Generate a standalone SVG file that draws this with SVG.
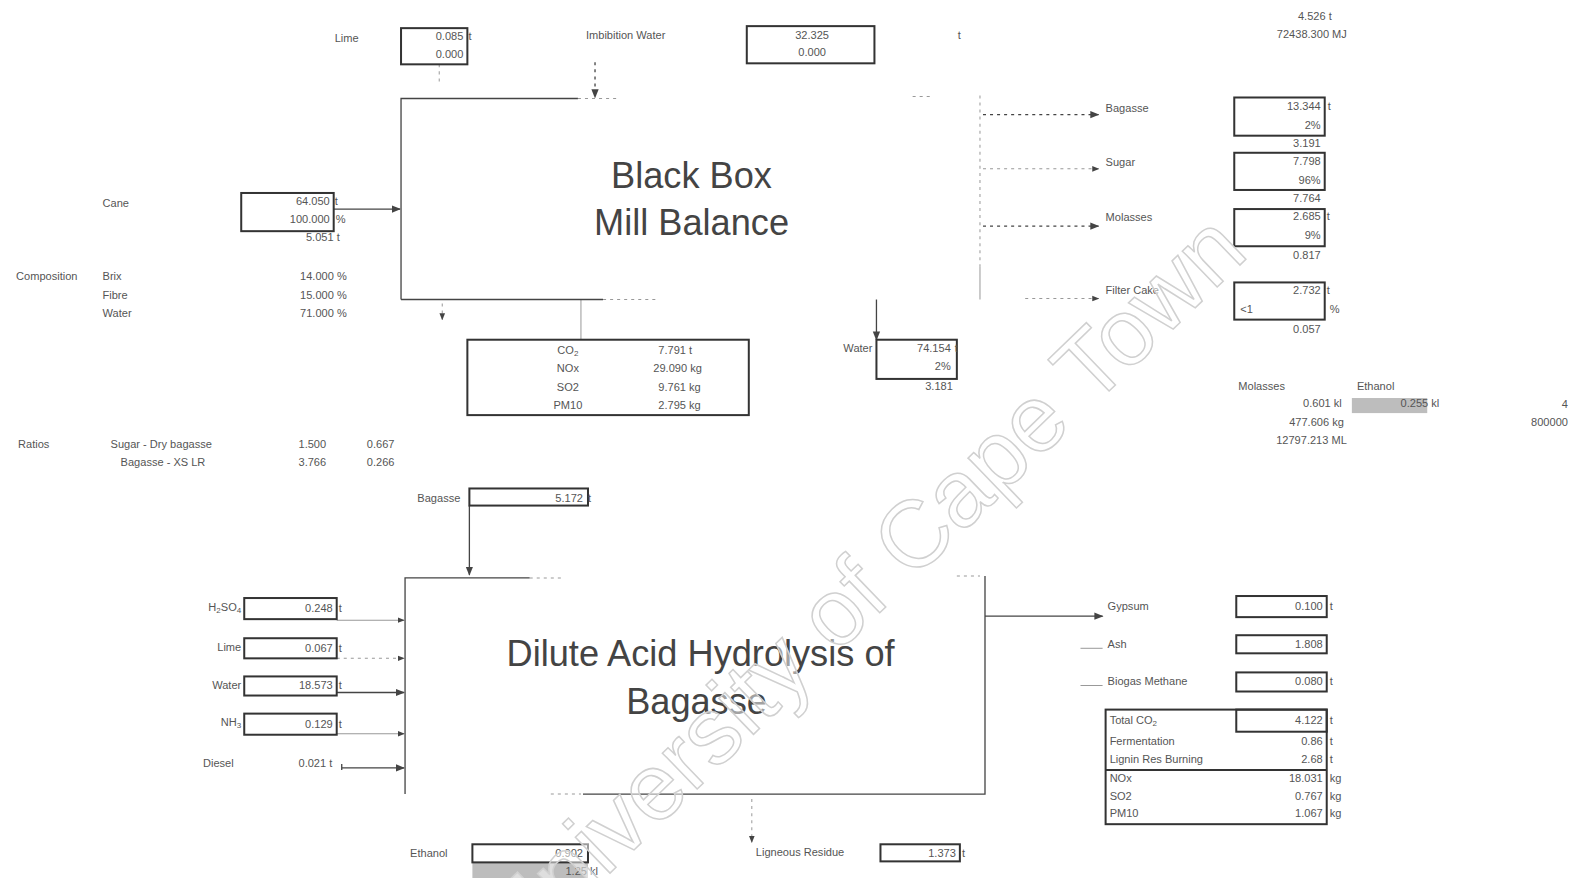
<svg xmlns="http://www.w3.org/2000/svg" width="1576" height="878" viewBox="0 0 1576 878">
<defs>
<style>
.t{font-family:"Liberation Sans",Arial,sans-serif;font-size:11px;fill:#555}
.e{text-anchor:end}
.m{text-anchor:middle}
.ti{font-family:"Liberation Sans",Arial,sans-serif;font-size:36px;fill:#444;text-anchor:middle}
.box{fill:none;stroke:#333;stroke-width:2}
.ln{fill:none;stroke:#444;stroke-width:1.3}
.lt{fill:none;stroke:#999;stroke-width:1}
.d{stroke-dasharray:3 4}
.wm{font-family:"Liberation Sans",Arial,sans-serif;font-size:94px;fill:#ffffff;fill-opacity:0.5;stroke:#d0d0d0;stroke-width:1.5;text-anchor:middle}
</style>
<marker id="a" viewBox="0 0 10 10" refX="9" refY="5" markerWidth="7" markerHeight="7" orient="auto"><path d="M0,1 L10,5 L0,9 z" fill="#444"/></marker>
</defs>
<rect width="1576" height="878" fill="#ffffff"/>
<g transform="scale(1.0051)">
<g id="connectors">
<path class="lt d" d="M437,64 V82"/>
<path class="ln d" d="M592,62 V97" marker-end="url(#a)"/>
<path class="ln" d="M332,208 H398" marker-end="url(#a)"/>
<path class="lt d" d="M440,302 V318" marker-end="url(#a)"/>
<path class="lt" d="M578,298 V338"/>
<path class="ln" d="M872,298 V338" marker-end="url(#a)"/>
<path class="ln d" d="M978,114 H1093" marker-end="url(#a)"/>
<path class="lt d" d="M978,168 H1093" marker-end="url(#a)"/>
<path class="ln d" d="M978,225 H1093" marker-end="url(#a)"/>
<path class="lt d" d="M1020,297 H1093" marker-end="url(#a)"/>
<path class="ln" d="M467,503 V572" marker-end="url(#a)"/>
<path class="lt" d="M335,617 H402" marker-end="url(#a)"/>
<path class="lt d" d="M335,655 H402" marker-end="url(#a)"/>
<path class="ln" d="M335,689 H402" marker-end="url(#a)"/>
<path class="lt" d="M335,730 H402" marker-end="url(#a)"/>
<path class="ln" d="M340,760 V766 M340,764 H402" marker-end="url(#a)"/>
<path class="ln" d="M980,613 H1097" marker-end="url(#a)"/>
<path class="lt" d="M1075,645 H1097"/>
<path class="lt" d="M1075,682 H1097"/>
<path class="lt d" d="M748,795 V838" marker-end="url(#a)"/>
</g>
<g id="lime-top">
<text class="t" x="333" y="42">Lime</text>
<rect class="box" x="399" y="28" width="66" height="36"/>
<text class="t e" x="461" y="40">0.085</text><text class="t" x="466" y="40">t</text>
<text class="t e" x="461" y="58">0.000</text>
</g>
<g id="imbibition">
<text class="t" x="583" y="39">Imbibition Water</text>
<rect class="box" x="743" y="26" width="127" height="37"/>
<text class="t m" x="808" y="39">32.325</text>
<text class="t m" x="808" y="56">0.000</text>
<text class="t" x="953" y="39">t</text>
</g>
<g id="energy">
<text class="t e" x="1325" y="20">4.526 t</text>
<text class="t e" x="1340" y="38">72438.300 MJ</text>
</g>
<g id="black-box">
<path class="ln" d="M399,298 V98 H575"/>
<path class="lt d" d="M575,98 H615"/>
<path class="lt d" d="M908,96 H925"/>
<path class="lt d" d="M975,95 V265"/>
<path class="lt" d="M975,265 V298"/>
<path class="ln" d="M399,298 H600"/>
<path class="lt d" d="M600,298 H652"/>
<text class="ti" x="688" y="187">Black Box</text>
<text class="ti" x="688" y="234">Mill Balance</text>
</g>
<g id="cane">
<text class="t" x="102" y="206">Cane</text>
<rect class="box" x="240" y="192" width="92" height="38"/>
<text class="t e" x="328" y="204">64.050</text><text class="t" x="333" y="204">t</text>
<text class="t e" x="328" y="222">100.000</text><text class="t" x="334" y="222">%</text>
<text class="t e" x="338" y="240">5.051 t</text>
</g>
<g id="composition">
<text class="t" x="16" y="279">Composition</text>
<text class="t" x="102" y="279">Brix</text>
<text class="t" x="102" y="297">Fibre</text>
<text class="t" x="102" y="315">Water</text>
<text class="t e" x="345" y="279">14.000 %</text>
<text class="t e" x="345" y="297">15.000 %</text>
<text class="t e" x="345" y="315">71.000 %</text>
</g>
<g id="emissions">
<rect class="box" x="465" y="338" width="280" height="75"/>
<text class="t m" x="565" y="352">CO<tspan font-size="8" dy="2">2</tspan></text>
<text class="t m" x="565" y="370">NOx</text>
<text class="t m" x="565" y="389">SO2</text>
<text class="t m" x="565" y="407">PM10</text>
<text class="t" x="655" y="352">7.791 t</text>
<text class="t" x="650" y="370">29.090 kg</text>
<text class="t" x="655" y="389">9.761 kg</text>
<text class="t" x="655" y="407">2.795 kg</text>
</g>
<g id="water-out">
<text class="t e" x="868" y="350">Water</text>
<rect class="box" x="872" y="338" width="80" height="39"/>
<text class="t e" x="946" y="350">74.154</text><text class="t" x="950" y="350">t</text>
<text class="t e" x="946" y="368">2%</text>
<text class="t e" x="948" y="388">3.181</text>
</g>
<g id="bagasse-out">
<text class="t" x="1100" y="111">Bagasse</text>
<rect class="box" x="1228" y="97" width="90" height="38"/>
<text class="t e" x="1314" y="109">13.344</text><text class="t" x="1321" y="109">t</text>
<text class="t e" x="1314" y="128">2%</text>
<text class="t e" x="1314" y="146">3.191</text>
</g>
<g id="sugar-out">
<text class="t" x="1100" y="165">Sugar</text>
<rect class="box" x="1228" y="152" width="90" height="37"/>
<text class="t e" x="1314" y="164">7.798</text>
<text class="t e" x="1314" y="183">96%</text>
<text class="t e" x="1314" y="201">7.764</text>
</g>
<g id="molasses-out">
<text class="t" x="1100" y="220">Molasses</text>
<rect class="box" x="1228" y="208" width="90" height="37"/>
<text class="t e" x="1314" y="219">2.685</text><text class="t" x="1320" y="219">t</text>
<text class="t e" x="1314" y="238">9%</text>
<text class="t e" x="1314" y="258">0.817</text>
</g>
<g id="filter-cake">
<text class="t" x="1100" y="293">Filter Cake</text>
<rect class="box" x="1228" y="281" width="90" height="37"/>
<text class="t e" x="1314" y="293">2.732</text><text class="t" x="1320" y="293">t</text>
<text class="t" x="1234" y="311">&lt;1</text><text class="t" x="1323" y="311">%</text>
<text class="t e" x="1314" y="331">0.057</text>
</g>
<g id="ethanol-molasses">
<text class="t" x="1232" y="388">Molasses</text>
<text class="t" x="1350" y="388">Ethanol</text>
<text class="t e" x="1335" y="405">0.601 kl</text>
<rect x="1345" y="396" width="75" height="15" fill="#bdbdbd"/>
<text class="t e" x="1432" y="405">0.255 kl</text>
<text class="t e" x="1337" y="424">477.606 kg</text>
<text class="t e" x="1340" y="442">12797.213 ML</text>
<text class="t e" x="1560" y="406">4</text>
<text class="t e" x="1560" y="424">800000</text>
</g>
<g id="ratios">
<text class="t" x="18" y="446">Ratios</text>
<text class="t" x="110" y="446">Sugar - Dry bagasse</text>
<text class="t" x="120" y="464">Bagasse - XS LR</text>
<text class="t" x="297" y="446">1.500</text>
<text class="t" x="365" y="446">0.667</text>
<text class="t" x="297" y="464">3.766</text>
<text class="t" x="365" y="464">0.266</text>
</g>
<g id="bagasse-in">
<text class="t e" x="458" y="499">Bagasse</text>
<rect class="box" x="467" y="486" width="118" height="17"/>
<text class="t e" x="580" y="499">5.172</text><text class="t" x="585" y="499">t</text>
</g>
<g id="dilute-acid">
<path class="ln" d="M403,790 V575 H527"/>
<path class="lt d" d="M527,575 H560"/>
<path class="lt d" d="M952,573 H975"/>
<path class="ln" d="M980,573 V790 H580"/>
<path class="lt d" d="M548,790 H578"/>
<text class="ti" x="697" y="663">Dilute Acid Hydrolysis of</text>
<text class="ti" x="693" y="710">Bagasse</text>
</g>
<g id="inputs">
<text class="t e" x="240" y="608">H<tspan font-size="8" dy="2">2</tspan><tspan dy="-2">SO</tspan><tspan font-size="8" dy="2">4</tspan></text>
<rect class="box" x="243" y="595" width="92" height="21"/>
<text class="t e" x="331" y="609">0.248</text><text class="t" x="337" y="609">t</text>
<text class="t e" x="240" y="648">Lime</text>
<rect class="box" x="243" y="635" width="92" height="20"/>
<text class="t e" x="331" y="649">0.067</text><text class="t" x="337" y="649">t</text>
<text class="t e" x="240" y="686">Water</text>
<rect class="box" x="243" y="673" width="92" height="19"/>
<text class="t e" x="331" y="686">18.573</text><text class="t" x="337" y="686">t</text>
<text class="t e" x="240" y="722">NH<tspan font-size="8" dy="2">3</tspan></text>
<rect class="box" x="243" y="710" width="92" height="21"/>
<text class="t e" x="331" y="724">0.129</text><text class="t" x="337" y="724">t</text>
<text class="t" x="202" y="763">Diesel</text>
<text class="t" x="297" y="763">0.021 t</text>
</g>
<g id="gypsum">
<text class="t" x="1102" y="607">Gypsum</text>
<rect class="box" x="1230" y="593" width="90" height="21"/>
<text class="t e" x="1316" y="607">0.100</text><text class="t" x="1323" y="607">t</text>
</g>
<g id="ash">
<text class="t" x="1102" y="645">Ash</text>
<rect class="box" x="1230" y="632" width="90" height="18"/>
<text class="t e" x="1316" y="645">1.808</text>
</g>
<g id="biogas">
<text class="t" x="1102" y="682">Biogas Methane</text>
<rect class="box" x="1230" y="669" width="90" height="19"/>
<text class="t e" x="1316" y="682">0.080</text><text class="t" x="1323" y="682">t</text>
</g>
<g id="total-co2">
<rect class="box" x="1100" y="706" width="220" height="114"/>
<rect class="box" x="1230" y="706" width="90" height="22"/>
<path class="box" d="M1100,766 H1320"/>
<text class="t" x="1104" y="720">Total CO<tspan font-size="8" dy="2">2</tspan></text>
<text class="t" x="1104" y="741">Fermentation</text>
<text class="t" x="1104" y="759">Lignin Res Burning</text>
<text class="t" x="1104" y="778">NOx</text>
<text class="t" x="1104" y="796">SO2</text>
<text class="t" x="1104" y="813">PM10</text>
<text class="t e" x="1316" y="720">4.122</text><text class="t" x="1323" y="720">t</text>
<text class="t e" x="1316" y="741">0.86</text><text class="t" x="1323" y="741">t</text>
<text class="t e" x="1316" y="759">2.68</text><text class="t" x="1323" y="759">t</text>
<text class="t e" x="1316" y="778">18.031</text><text class="t" x="1323" y="778">kg</text>
<text class="t e" x="1316" y="796">0.767</text><text class="t" x="1323" y="796">kg</text>
<text class="t e" x="1316" y="813">1.067</text><text class="t" x="1323" y="813">kg</text>
</g>
<g id="ethanol">
<text class="t" x="408" y="853">Ethanol</text>
<rect x="470" y="858" width="115" height="16" fill="#bdbdbd"/>
<rect class="box" x="470" y="840" width="115" height="18"/>
<text class="t e" x="580" y="853">0.902</text>
<text class="t e" x="595" y="871">1.25 kl</text>
</g>
<g id="ligneous">
<text class="t" x="752" y="852">Ligneous Residue</text>
<rect class="box" x="876" y="840" width="79" height="17"/>
<text class="t e" x="951" y="853">1.373</text><text class="t" x="957" y="853">t</text>
</g>
<text class="wm" x="880" y="605" transform="rotate(-44 880 605)">University of Cape Town</text>
</g>
</svg>
